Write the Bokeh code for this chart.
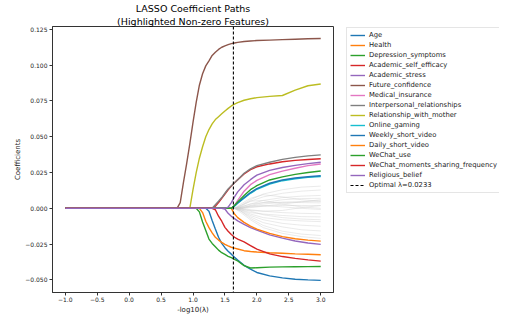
import math
from bokeh.plotting import figure
from bokeh.layouts import row
from bokeh.models import Range1d, FixedTicker, Span, Legend, LegendItem, Title
from bokeh.embed import file_html
from bokeh.resources import INLINE

# ---------------- data ----------------
neg_log_lambda = [-1.0, 0.75, 0.8, 0.85, 0.9, 0.95, 1.0, 1.05, 1.1, 1.15, 1.2, 1.25,
                  1.3, 1.35, 1.4, 1.45, 1.5, 1.55, 1.6, 1.65, 1.7, 1.8, 1.9, 2.0,
                  2.2, 2.4, 2.6, 2.8, 3.0]

features = ["Age", "Health", "Depression_symptoms", "Academic_self_efficacy",
            "Academic_stress", "Future_confidence", "Medical_insurance",
            "Interpersonal_relationships", "Relationship_with_mother", "Online_gaming",
            "Weekly_short_video", "Daily_short_video", "WeChat_use",
            "WeChat_moments_sharing_frequency", "Religious_belief"]

colors = ["#1f77b4", "#ff7f0e", "#2ca02c", "#d62728", "#9467bd", "#8c564b", "#e377c2",
          "#7f7f7f", "#bcbd22", "#17becf", "#1f77b4", "#ff7f0e", "#2ca02c", "#d62728",
          "#9467bd"]

coef_age = [0, 0, 0, 0, 0, 0, 0, 0, 0, 0, 0, -0.002, -0.0085, -0.0145, -0.0202, -0.0245,
            -0.0275, -0.030, -0.032, -0.0342, -0.0362, -0.0398, -0.0425, -0.0448, -0.0472,
            -0.0486, -0.0495, -0.0500, -0.0503]
coef_health = [0, 0, 0, 0, 0, 0, 0, 0, 0, -0.003, -0.009, -0.0135, -0.0172, -0.0202,
               -0.0222, -0.0238, -0.0252, -0.0263, -0.0272, -0.0278, -0.0284, -0.0296,
               -0.0302, -0.0305, -0.031, -0.0314, -0.0318, -0.0321, -0.0324]
coef_depression = [0, 0, 0, 0, 0, 0, 0, 0, -0.0025, -0.0095, -0.0155, -0.0215, -0.0245,
                   -0.0268, -0.0292, -0.031, -0.0322, -0.0335, -0.0345, -0.0356, -0.0368,
                   -0.040, -0.0417, -0.0415, -0.0411, -0.0409, -0.0408, -0.0407, -0.0406]
coef_self_efficacy = [0, 0, 0, 0, 0, 0, 0, 0, 0, 0, 0, 0, 0, 0.0015, 0.004, 0.007, 0.010,
                      0.013, 0.0155, 0.0178, 0.020, 0.024, 0.027, 0.029, 0.031, 0.0325,
                      0.0335, 0.0341, 0.0346]
coef_stress = [0, 0, 0, 0, 0, 0, 0, 0, 0, 0, 0, 0, 0, 0, 0, 0, -0.0005, -0.0035, -0.0055,
               -0.0072, -0.0088, -0.0112, -0.0135, -0.0152, -0.0185, -0.0208, -0.0228,
               -0.0242, -0.0252]
coef_future = [0, 0, 0.004, 0.018, 0.031, 0.045, 0.060, 0.074, 0.086, 0.094, 0.0995, 0.103,
               0.1068, 0.109, 0.111, 0.1125, 0.1135, 0.1143, 0.115, 0.1155, 0.1159, 0.1165,
               0.1169, 0.1172, 0.1175, 0.1178, 0.1181, 0.1184, 0.1186]
coef_medical = [0, 0, 0, 0, 0, 0, 0, 0, 0, 0, 0, 0, 0, 0, 0, 0, 0, 0, 0, 0.002, 0.0055,
                0.012, 0.0165, 0.0195, 0.0235, 0.026, 0.028, 0.0298, 0.031]
coef_interpersonal = [0, 0, 0, 0, 0, 0, 0, 0, 0, 0, 0, 0, 0, 0.0025, 0.005, 0.0075, 0.0105,
                      0.0135, 0.0157, 0.0178, 0.020, 0.0245, 0.0275, 0.0298, 0.0322,
                      0.0342, 0.0356, 0.0366, 0.0373]
coef_mother = [0, 0, 0, 0, 0, 0, 0.013, 0.025, 0.035, 0.043, 0.050, 0.055, 0.059, 0.062,
               0.064, 0.066, 0.068, 0.0698, 0.0715, 0.0727, 0.0738, 0.0755, 0.0765, 0.0773,
               0.0782, 0.0788, 0.0825, 0.0856, 0.0868]
coef_gaming = [0, 0, 0, 0, 0, 0, 0, 0, 0, 0, 0, 0, 0, 0, 0, 0, 0, 0, 0, 0.0015, 0.0035,
               0.007, 0.0105, 0.0133, 0.017, 0.0193, 0.0207, 0.0216, 0.0222]
coef_weekly = [0, 0, 0, 0, 0, 0, 0, 0, 0, 0, 0, 0, 0, 0, 0, 0, 0, 0, 0, 0.0018, 0.0038,
               0.0075, 0.011, 0.0138, 0.0175, 0.0198, 0.0212, 0.0221, 0.0227]
coef_daily = [0, 0, 0, 0, 0, 0, 0, 0, 0, 0, 0, 0, 0, 0, 0, 0, 0, 0, 0, -0.004, -0.0065,
              -0.0098, -0.0125, -0.0145, -0.0175, -0.0198, -0.0213, -0.0222, -0.0229]
coef_wechat = [0, 0, 0, 0, 0, 0, 0, 0, 0, 0, 0, 0, 0, 0, 0, 0, 0, 0, 0, 0.002, 0.0045,
               0.009, 0.013, 0.0158, 0.0198, 0.022, 0.0237, 0.025, 0.0261]
coef_moments = [0, 0, 0, 0, 0, 0, 0, 0, 0, 0, 0, 0, 0, -0.001, -0.0055, -0.009, -0.0133,
                -0.016, -0.0183, -0.0202, -0.0215, -0.0235, -0.026, -0.0285, -0.0318,
                -0.0337, -0.035, -0.036, -0.0369]
coef_religious = [0, 0, 0, 0, 0, 0, 0, 0, 0, 0, 0, 0, 0, 0, 0, 0, 0, 0.0008, 0.004, 0.008,
                  0.0115, 0.0165, 0.020, 0.0232, 0.0265, 0.0285, 0.030, 0.0312, 0.0322]

highlighted = [coef_age, coef_health, coef_depression, coef_self_efficacy, coef_stress,
               coef_future, coef_medical, coef_interpersonal, coef_mother, coef_gaming,
               coef_weekly, coef_daily, coef_wechat, coef_moments, coef_religious]

# other (zero / small) feature paths drawn in light gray
other_neg_log_lambda = [-1.0, 1.65, 1.75, 1.9, 2.1, 2.4, 2.7, 3.0]
other_coefs = [
    [0, 0, 0.002, 0.006, 0.010, 0.013, 0.0148, 0.0155],
    [0, 0, 0.0015, 0.005, 0.008, 0.0105, 0.012, 0.0128],
    [0, 0, 0.001, 0.003, 0.0055, 0.0075, 0.0085, 0.009],
    [0, 0, 0.0005, 0.002, 0.004, 0.006, 0.0068, 0.007],
    [0, 0, 0, 0.0015, 0.003, 0.0042, 0.0048, 0.005],
    [0, 0, 0.001, 0.003, 0.004, 0.0042, 0.004, 0.0038],
    [0, 0, 0, 0.001, 0.0015, 0.002, 0.002, 0.0018],
    [0, 0, 0.0005, 0.0015, 0.002, 0.001, 0.0, -0.0008],
    [0, 0, -0.0005, -0.0015, -0.002, -0.0015, 0.0005, 0.002],
    [0, 0, 0, -0.001, -0.002, -0.003, -0.0035, -0.0038],
    [0, 0, -0.001, -0.003, -0.004, -0.005, -0.0058, -0.006],
    [0, 0, -0.001, -0.004, -0.0065, -0.008, -0.0088, -0.0093],
    [0, 0, -0.0015, -0.005, -0.008, -0.0105, -0.0118, -0.0125],
    [0, 0, -0.002, -0.006, -0.010, -0.013, -0.015, -0.0158],
    [0, 0, -0.002, -0.007, -0.012, -0.016, -0.018, -0.019],
    [0, 0, -0.003, -0.008, -0.0135, -0.0175, -0.0198, -0.021],
    [0, 0, 0.003, 0.007, 0.0095, 0.008, 0.006, 0.005],
    [0, 0, 0, 0.0005, 0.0015, 0.003, 0.0045, 0.006],
    [0, 0, -0.0005, -0.002, -0.0045, -0.0065, -0.0075, -0.008],
    [0, 0, 0.002, 0.005, 0.0055, 0.003, 0.001, 0.0],
]

optimal_lambda = 0.0233

x_ticks = [-1.0, -0.5, 0.0, 0.5, 1.0, 1.5, 2.0, 2.5, 3.0]
x_tick_labels = ["\u22121.0", "\u22120.5", "0.0", "0.5", "1.0", "1.5", "2.0", "2.5", "3.0"]
y_ticks = [-0.05, -0.025, 0.0, 0.025, 0.05, 0.075, 0.1, 0.125]
y_tick_labels = ["\u22120.050", "\u22120.025", "0.000", "0.025", "0.050", "0.075",
                 "0.100", "0.125"]

title_line1 = "LASSO Coefficient Paths"
title_line2 = "(Highlighted Non-zero Features)"

# ---------------- main figure ----------------
FONT = "DejaVu Sans"
W1, W2, H = 345, 154, 316
BL, BR, BT, BB = 52, 12, 0, 22
X_RANGE = (-1.2, 3.2)
Y_RANGE = (-0.0588, 0.1270)
p = figure(width=W1, height=H, output_backend="svg", toolbar_location=None,
           x_range=Range1d(*X_RANGE), y_range=Range1d(*Y_RANGE),
           min_border_left=BL, min_border_right=BR, min_border_top=BT,
           min_border_bottom=BB, background_fill_color="white",
           border_fill_color="white", title=None)

p.xgrid.visible = False
p.ygrid.visible = False
p.outline_line_color = "#333333"
p.outline_line_width = 1

# line 2 sits next to the frame, line 1 above it
for txt in (title_line2, title_line1):
    p.add_layout(Title(text=txt, align="center", text_font=FONT, text_font_size="9.5px",
                       text_font_style="normal", text_color="black", standoff=0),
                 "above")

for ax, ticks, labels in ((p.xaxis[0], x_ticks, x_tick_labels),
                          (p.yaxis[0], y_ticks, y_tick_labels)):
    ax.ticker = FixedTicker(ticks=ticks)
    ax.major_label_overrides = {t: l for t, l in zip(ticks, labels)}
    ax.major_label_text_font = FONT
    ax.major_label_text_font_size = "6px"
    ax.major_label_text_color = "#222222"
    ax.axis_label_text_font = FONT
    ax.axis_label_text_font_size = "7px"
    ax.axis_label_text_font_style = "normal"
    ax.axis_label_text_color = "#222222"
    ax.major_tick_out = 3
    ax.major_tick_in = 0
    ax.minor_tick_out = 0
    ax.minor_tick_in = 0
    ax.axis_line_color = "#333333"
    ax.major_tick_line_color = "#333333"

p.xaxis[0].axis_label = "-log10(\u03bb)"
p.xaxis[0].major_label_standoff = 1
p.xaxis[0].axis_label_standoff = 1
p.yaxis[0].axis_label = "Coefficients"
p.yaxis[0].major_label_standoff = 2
p.yaxis[0].axis_label_standoff = 0

for ys in other_coefs:
    p.line(other_neg_log_lambda, ys, line_color="#cfcfcf", line_alpha=0.55,
           line_width=0.8)

for col, ys in zip(colors, highlighted):
    p.line(neg_log_lambda, ys, line_color=col, line_width=1.4)

opt_x = -math.log10(optimal_lambda)
p.add_layout(Span(location=opt_x, dimension="height", line_color="black",
                  line_dash="3 2", line_width=1.1))

# ---------------- legend panel (a second, axis-less figure) ----------------
# its ranges lie beyond the data, so the proxy lines below only feed the legend glyphs
q = figure(width=W2, height=H, output_backend="svg", toolbar_location=None,
           x_axis_type=None, y_axis_type=None, min_border=0,
           background_fill_color="white", border_fill_color="white", title=None,
           x_range=Range1d(X_RANGE[1] + 10, X_RANGE[1] + 11),
           y_range=Range1d(*Y_RANGE))
q.outline_line_color = None
q.xgrid.visible = False
q.ygrid.visible = False

items = []
for name, col, ys in zip(features, colors, highlighted):
    r = q.line(neg_log_lambda, ys, line_color=col, line_width=1.4)
    items.append(LegendItem(label=name, renderers=[r]))
r_opt = q.line([opt_x, opt_x], [y_ticks[0], y_ticks[-1]], line_color="black",
               line_dash="3 2", line_width=1.1)
items.append(LegendItem(label="Optimal \u03bb=%.4f" % optimal_lambda, renderers=[r_opt]))

leg_pad, leg_row, leg_gap = 3, 8, 2
legend = Legend(items=items, location="top_left", margin=1,
                label_text_font=FONT, label_text_font_size="6.8px",
                label_text_color="#222222", label_height=leg_row, glyph_height=leg_row,
                glyph_width=15, spacing=leg_gap, label_standoff=4, padding=leg_pad,
                border_line_color="#cccccc", border_line_width=1,
                background_fill_color="white", background_fill_alpha=0.8)
q.add_layout(legend)

layout = row(p, q)
open("out.html", "w").write(file_html(layout, INLINE))
